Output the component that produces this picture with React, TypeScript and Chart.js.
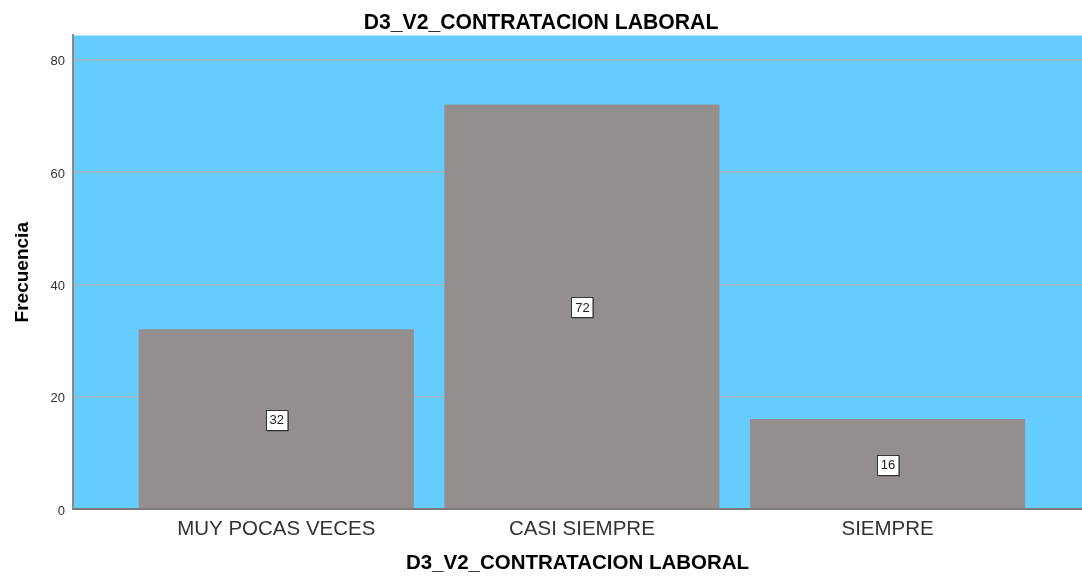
import React, { useEffect, useRef } from "react";
import { Chart, registerables } from "chart.js";

Chart.register(...registerables);

const chartTitle = "D3_V2_CONTRATACION LABORAL";
const xAxisTitle = "D3_V2_CONTRATACION LABORAL";
const yAxisTitle = "Frecuencia";
const categories = ["MUY POCAS VECES", "CASI SIEMPRE", "SIEMPRE"];
const frequencies = [32, 72, 16];
const yTickValues = [0, 20, 40, 60, 80];

const FONT = "'Liberation Sans', Arial, sans-serif";

const plotBackground = {
  id: "plotBackground",
  beforeDraw(chart: any) {
    const { ctx, chartArea } = chart;
    ctx.save();
    ctx.fillStyle = "#66CCFF";
    ctx.fillRect(chartArea.left, chartArea.top, chartArea.right - chartArea.left, chartArea.bottom - chartArea.top);
    ctx.restore();
  },
};

const barLabels = {
  id: "barLabels",
  afterDatasetsDraw(chart: any) {
    const { ctx } = chart;
    const meta = chart.getDatasetMeta(0);
    const ds = chart.data.datasets[0];
    ctx.save();
    ctx.font = `13px ${FONT}`;
    ctx.textAlign = "center";
    ctx.textBaseline = "middle";
    meta.data.forEach((el: any, i: number) => {
      const v = ds.data[i].y;
      const text = String(v);
      const cx = el.x;
      const cy = (el.y + el.base) / 2 + 1;
      const w = ctx.measureText(text).width + 7;
      const h = 20;
      const x0 = Math.round(cx - w / 2) + 0.5;
      const y0 = Math.round(cy - h / 2) + 0.5;
      ctx.fillStyle = "#5a5a5a";
      ctx.fillRect(x0 + 1, y0 + 1, w, h);
      ctx.fillStyle = "#ffffff";
      ctx.fillRect(x0, y0, w, h);
      ctx.strokeStyle = "#333333";
      ctx.lineWidth = 1;
      ctx.strokeRect(x0, y0, w, h);
      ctx.fillStyle = "#222222";
      ctx.fillText(text, cx + 0.5, cy + 1);
    });
    ctx.restore();
  },
};

export default function App() {
  const ref = useRef<HTMLCanvasElement>(null);

  useEffect(() => {
    if (!ref.current) return;
    const chart = new Chart(ref.current, {
      type: "bar",
      data: {
        datasets: [
          {
            label: yAxisTitle,
            data: frequencies.map((v, i) => ({ x: i, y: v })),
            backgroundColor: "#948F8E",
            borderWidth: 0,
            barPercentage: 0.9,
            categoryPercentage: 1,
          },
        ],
      },
      options: {
        animation: false,
        responsive: false,
        layout: { padding: 0 },
        plugins: {
          legend: { display: false },
          tooltip: { enabled: false },
          title: {
            display: true,
            text: chartTitle,
            font: { family: FONT, size: 21.2, weight: "bold" },
            color: "#000000",
            padding: { top: 10, bottom: 0 },
          },
        },
        scales: {
          x: {
            type: "linear",
            offset: false,
            min: -0.665,
            max: 2.636,
            afterBuildTicks: (scale: any) => {
              scale.ticks = categories.map((_, i) => ({ value: i }));
            },
            afterFit: (scale: any) => {
              scale.height = 67;
            },
            ticks: {
              callback: (value: any) => categories[value] ?? "",
              font: { family: FONT, size: 20.5 },
              color: "#333333",
              padding: 8,
              maxRotation: 0,
              autoSkip: false,
            },
            grid: { display: false, drawTicks: false, offset: false },
            border: { display: true, color: "#7a7a7a", width: 2 },
            title: {
              display: true,
              text: xAxisTitle,
              font: { family: FONT, size: 20.5, weight: "bold" },
              color: "#000000",
              padding: { top: 0, bottom: 0 },
            },
          },
          y: {
            min: 0,
            max: 84.3,
            afterBuildTicks: (scale: any) => {
              scale.ticks = yTickValues.map((v) => ({ value: v }));
            },
            afterFit: (scale: any) => {
              scale.width = 73;
            },
            ticks: {
              font: { family: FONT, size: 13 },
              color: "#333333",
              padding: 8,
              labelOffset: 2,
            },
            grid: {
              drawTicks: false,
              color: (ctx: any) => (ctx.tick && ctx.tick.value === 0 ? "rgba(0,0,0,0)" : "#A3B3BD"),
              lineWidth: 1.5,
            },
            border: { display: true, color: "#8a8a8a", width: 2 },
            title: {
              display: true,
              text: yAxisTitle,
              font: { family: FONT, size: 19, weight: "bold" },
              color: "#000000",
              padding: { top: 11, bottom: 0 },
            },
          },
        },
      },
      plugins: [plotBackground, barLabels],
    } as any);
    return () => chart.destroy();
  }, []);

  return (
    <div style={{ position: "fixed", left: 0, top: 0, width: 1082, height: 576, background: "#ffffff" }}>
      <canvas ref={ref} width={1082} height={576} style={{ display: "block", width: 1082, height: 576 }} />
    </div>
  );
}
